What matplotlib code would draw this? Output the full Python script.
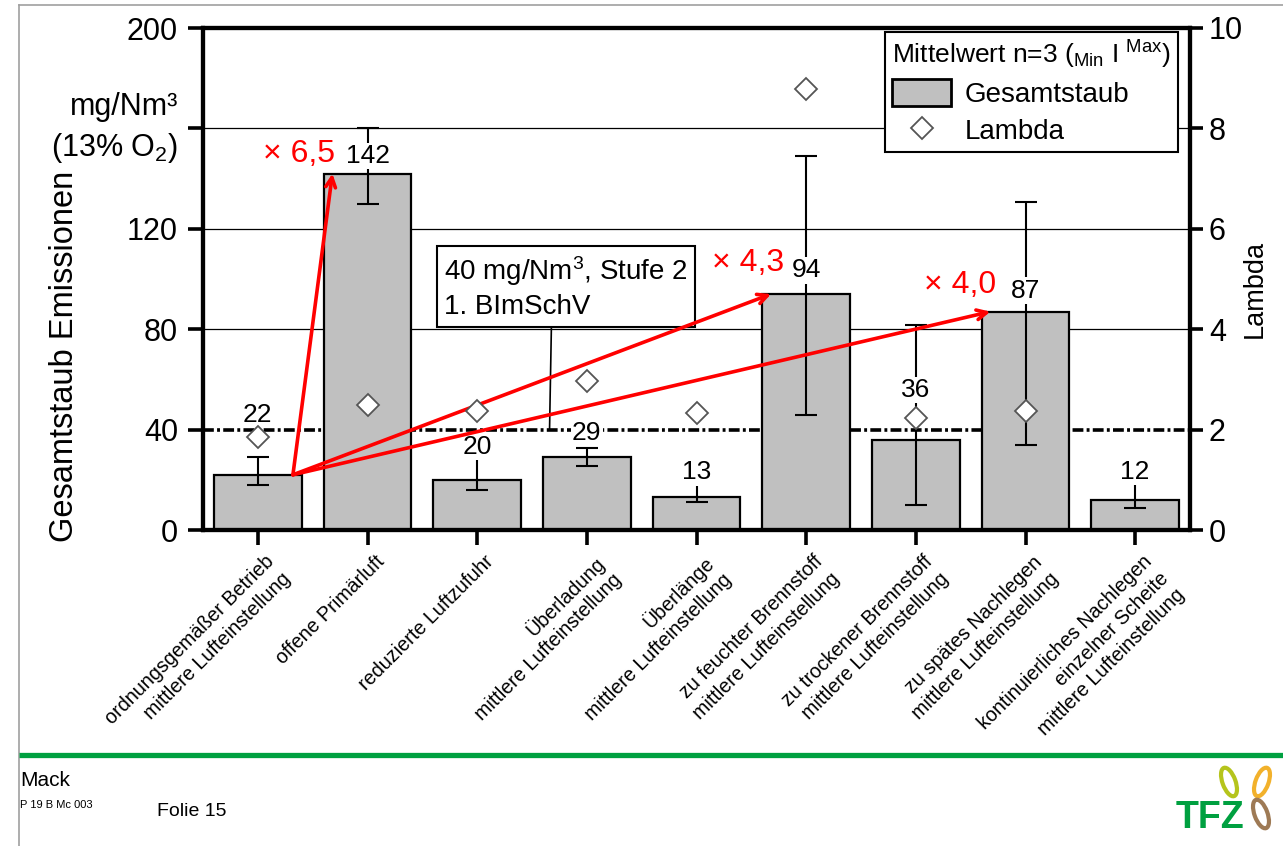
import matplotlib.pyplot as plt
import matplotlib.transforms as mtransforms
import numpy as np
from matplotlib.lines import Line2D
from matplotlib.patches import Rectangle, Ellipse

plt.rcParams["font.family"] = ["Liberation Sans", "DejaVu Sans"]
plt.rcParams["mathtext.fontset"] = "custom"
plt.rcParams["mathtext.rm"] = "Liberation Sans"
plt.rcParams["mathtext.it"] = "Liberation Sans:italic"

# --- data ---
categories = [
    "ordnungsgemäßer Betrieb\nmittlere Lufteinstellung",
    "offene Primärluft",
    "reduzierte Luftzufuhr",
    "Überladung\nmittlere Lufteinstellung",
    "Überlänge\nmittlere Lufteinstellung",
    "zu feuchter Brennstoff\nmittlere Lufteinstellung",
    "zu trockener Brennstoff\nmittlere Lufteinstellung",
    "zu spätes Nachlegen\nmittlere Lufteinstellung",
    "kontinuierliches Nachlegen\neinzelner Scheite\nmittlere Lufteinstellung",
]
staub_mean = [22, 142, 20, 29, 13, 94, 36, 87, 12]
staub_min = [18, 130, 16, 25.5, 11, 46, 10, 34, 8.7]
staub_max = [29, 160, 29, 32.5, 19, 149, 81.5, 130.5, 19]
lambda_mean = [1.85, 2.5, 2.38, 2.97, 2.33, 8.78, 2.23, 2.37, np.nan]
limit = 40
compare_to = [1, 5, 7]  # factor vs. ordnungsgemäßer Betrieb
y_ticks = [0, 40, 80, 120, 160, 200]
y_ticklabels = ["0", "40", "80", "120", "", "200"]

# --- layout helpers (label centres in data units) ---
label_pos = [46, 149, 33, 38.7, 23, 103.5, 55.8, 95.3, 23.2]
ratio_pos = [(0.374, 150), (4.47, 106.5), (6.40, 97.7)]

W, H = 1283, 846
fig = plt.figure(figsize=(W / 100, H / 100), dpi=100)
ax = fig.add_axes([203 / W, 1 - 530 / H, (1190 - 203) / W, (530 - 28) / H])
x = np.arange(len(categories))

for yv in y_ticks[2:-1]:
    ax.axhline(yv, color="black", lw=0.9, zorder=1)
ax.axhline(limit, color="black", lw=2.6, dashes=(3, 0.9, 0.8, 0.9), zorder=1)

ax.bar(x, staub_mean, width=0.8, color="#c0c0c0", edgecolor="black",
       linewidth=1.6, zorder=2)
mean = np.array(staub_mean)
err = [mean - np.array(staub_min), np.array(staub_max) - mean]
ax.errorbar(x, mean, yerr=err, fmt="none", ecolor="black", elinewidth=1.5,
            capsize=8, capthick=1.5, zorder=3)

for xi, v, ly in zip(x, staub_mean, label_pos):
    ax.text(xi, ly, f"{v}", ha="center", va="center", fontsize=19, zorder=4,
            bbox=dict(facecolor="white", edgecolor="none", pad=1))

# limit value box
ax.annotate("40 mg/Nm$^3$, Stufe 2\n1. BImSchV", xy=(2.66, limit),
            xytext=(1.70, 83.5), textcoords="data", ha="left", va="bottom",
            fontsize=20, linespacing=1.3, zorder=6,
            bbox=dict(boxstyle="square,pad=0.25", fc="white", ec="black", lw=1.5),
            arrowprops=dict(arrowstyle="-", color="black", lw=1.2,
                            shrinkA=0, shrinkB=0, relpos=(0.44, 0)))

# red factor arrows
for i, (tx, ty) in zip(compare_to, ratio_pos):
    ax.annotate("", xy=(i - 0.32, staub_mean[i]), xytext=(0.32, staub_mean[0]),
                arrowprops=dict(arrowstyle="->,head_length=0.7,head_width=0.35",
                                color="#ff0000", lw=2.6, shrinkA=0, shrinkB=0),
                zorder=7)
    ratio = staub_mean[i] / staub_mean[0]
    ax.text(tx, ty, f"× {ratio:.1f}".replace(".", ","), color="#ff0000",
            ha="center", va="center", fontsize=23, zorder=7)

ax.set_xlim(-0.5, 8.5)
ax.set_ylim(0, 200)
ax.set_yticks(y_ticks)
ax.set_yticklabels(y_ticklabels)
ax.set_xticks(x)
ax.tick_params(axis="y", direction="out", length=11, width=2.6, labelsize=22, pad=7)
ax.tick_params(axis="x", direction="out", length=11, width=2.6, pad=5)
ax.set_xticklabels(categories, rotation=45, ha="right", va="top",
                   rotation_mode="anchor", fontsize=14.2, linespacing=1.3)
shift = mtransforms.ScaledTranslation(5 / 72, 0, fig.dpi_scale_trans)
for lbl in ax.get_xticklabels():
    lbl.set_transform(lbl.get_transform() + shift)
for sp in ax.spines.values():
    sp.set_linewidth(3)

ax2 = ax.twinx()
ax2.plot(x, lambda_mean, ls="none", marker="D", ms=11, mfc="white",
         mec="#555555", mew=1.3, zorder=5)
ax2.set_ylim(0, 10)
ax2.set_yticks(range(0, 11, 2))
ax2.tick_params(axis="y", direction="out", length=9.5, width=2.6, labelsize=22, pad=4)
for sp in ax2.spines.values():
    sp.set_linewidth(3)

handles = [Rectangle((0, 0), 1, 1, fc="#c0c0c0", ec="black", lw=2),
           Line2D([], [], ls="none", marker="D", ms=11, mfc="white",
                  mec="#555555", mew=1.3)]
leg = ax2.legend(handles, ["Gesamtstaub", "Lambda"],
                 title="Mittelwert n=3 ($_{\\mathregular{Min}}$ I $^{\\mathregular{Max}}$)",
                 loc="upper right", bbox_to_anchor=(0.988, 0.992), fontsize=20,
                 title_fontsize=19, fancybox=False, edgecolor="black",
                 framealpha=1, borderaxespad=0, alignment="left",
                 handlelength=2.1, handleheight=1.1, handletextpad=0.5,
                 labelspacing=0.3, borderpad=0.25)
leg.get_frame().set_linewidth(1.5)

fig.text(65 / W, 1 - 356 / H, "Gesamtstaub Emissionen", rotation=90,
         ha="center", va="center", fontsize=23.5)
fig.text(178 / W, 1 - 107 / H, "mg/Nm³", ha="right", va="center", fontsize=22)
fig.text(178 / W, 1 - 148 / H, "(13% O$_2$)", ha="right", va="center", fontsize=22)
fig.text(1255 / W, 1 - 289 / H, "Lambda", rotation=90, ha="center",
         va="center", fontsize=19.5)

# slide footer
deco = fig.add_axes([0, 0, 1, 1], zorder=-1)
deco.set_xlim(0, W)
deco.set_ylim(H, 0)
deco.axis("off")
deco.plot([19, 19], [5, H], color="#a0a0a0", lw=1.2)
deco.plot([19, W], [5, 5], color="#a0a0a0", lw=1.2)
deco.plot([19, W], [755, 755], color="#00a040", lw=3.8, solid_capstyle="butt")
deco.text(20, 780, "Mack", fontsize=15, va="center", ha="left")
deco.text(20, 805, "P 19 B Mc 003", fontsize=8, va="center", ha="left")
deco.text(157, 812, "Folie 15", fontsize=14, va="center", ha="left")
deco.text(1244, 828, "TFZ", fontsize=27, fontweight="bold", color="#00a040",
          ha="right", va="baseline")
deco.add_patch(Ellipse((1229, 782), 13, 30, angle=-20, fill=False,
                       ec="#b5c41c", lw=3))
deco.add_patch(Ellipse((1262, 782), 13, 30, angle=20, fill=False,
                       ec="#f2b12b", lw=3))
deco.add_patch(Ellipse((1261, 814), 13, 30, angle=-20, fill=False,
                       ec="#9e7a55", lw=3))

fig.savefig("out.png", dpi=100)
